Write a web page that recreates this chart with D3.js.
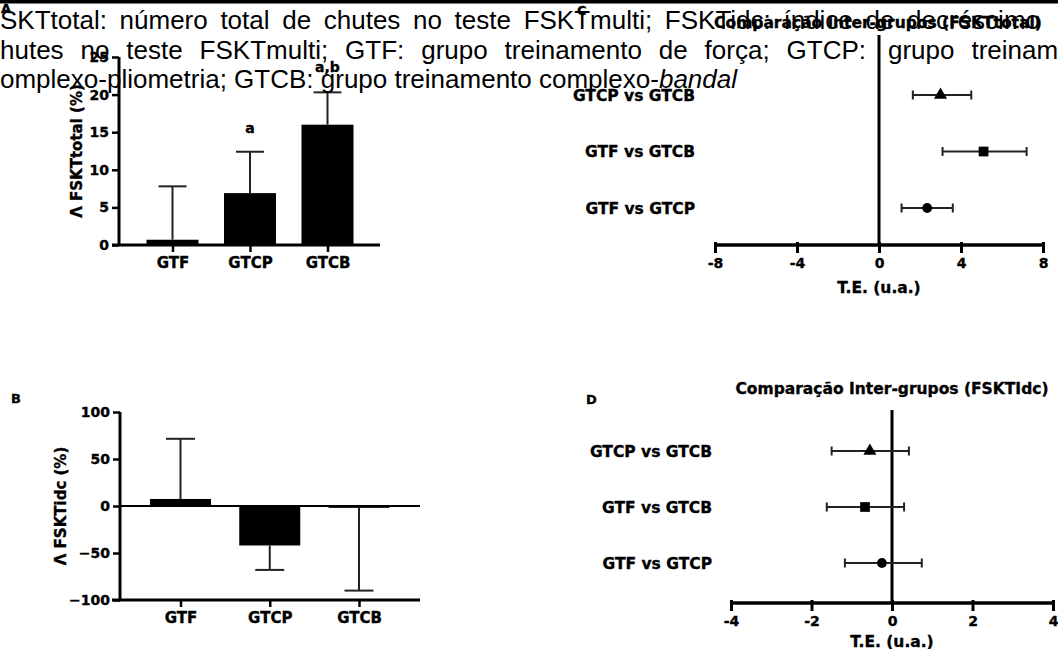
<!DOCTYPE html>
<html><head><meta charset="utf-8">
<script src="https://cdn.jsdelivr.net/npm/d3@7"></script>
<style>
html,body{margin:0;padding:0;background:#fff;overflow:hidden}
svg{display:block}
.b{font-family:"DejaVu Sans",sans-serif;font-weight:bold;fill:#000;stroke:#000;stroke-width:0.35px}
.cap{font-family:"Liberation Sans",Arial,sans-serif;font-size:26px;fill:#000}
</style></head>
<body>
<svg id="c" width="1058" height="649"></svg>
<script>
// ---- data ----
const groups = ["GTF", "GTCP", "GTCB"];
const totalMean = [0.7, 6.9, 16.0];
const totalSD = [7.1, 5.5, 4.3];
const totalSig = ["", "a", "a,b"];
const totalTicks = [0, 5, 10, 15, 20, 25];

const idcMean = [7.5, -42, -2];
const idcSD = [64, 26, 88];
const idcTicks = [-100, -50, 0, 50, 100];

const comparisons = ["GTCP vs GTCB", "GTF vs GTCB", "GTF vs GTCP"];
const markers = ["triangle", "square", "circle"];
const esTotal = [3.0, 5.1, 2.35];
const esTotalLo = [1.65, 3.1, 1.1];
const esTotalHi = [4.5, 7.2, 3.6];
const esTotalTicks = [-8, -4, 0, 4, 8];

const esIdc = [-0.55, -0.67, -0.25];
const esIdcLo = [-1.5, -1.62, -1.17];
const esIdcHi = [0.42, 0.3, 0.74];
const esIdcTicks = [-4, -2, 0, 2, 4];

const caption1 = "FSKTtotal: número total de chutes no teste FSKTmulti; FSKTidc: índice de decréscimo";
const caption2a = "chutes no teste FSKTmulti; GTF: grupo treinamento de força; GTCP:";
const caption2b = "grupo treinamento";
const caption3a = "complexo-pliometria; GTCB: grupo treinamento complexo-";
const caption3b = "bandal";

const svg = d3.select("#c");

// ---- bar panel ----
function barPanel(o) {
  const g = svg.append("g");
  const y = d3.scaleLinear().domain(o.domain).range(o.yRange);
  const x = d3.scalePoint().domain(groups).range(o.xRange);
  const bw = o.bw;
  g.selectAll("rect.bar").data(groups).join("rect")
    .attr("x", d => x(d) - bw / 2)
    .attr("width", bw)
    .attr("y", (d, i) => Math.min(y(o.mean[i]), y(0)))
    .attr("height", (d, i) => Math.max(1.5, Math.abs(y(o.mean[i]) - y(0))))
    .attr("fill", "#000");
  const ends = o.mean.map((m, i) => m >= 0 ? m + o.sd[i] : m - o.sd[i]);
  g.selectAll("line.err").data(groups).join("line")
    .attr("x1", d => x(d)).attr("x2", d => x(d))
    .attr("y1", (d, i) => y(o.mean[i])).attr("y2", (d, i) => y(ends[i]))
    .attr("stroke", "#222").attr("stroke-width", 2);
  g.selectAll("line.capl").data(groups).join("line")
    .attr("x1", d => x(d) - o.capW / 2).attr("x2", d => x(d) + o.capW / 2)
    .attr("y1", (d, i) => y(ends[i])).attr("y2", (d, i) => y(ends[i]))
    .attr("stroke", "#222").attr("stroke-width", 2);
  const ya = g.append("g").attr("transform", `translate(${o.yAxisX},0)`)
    .call(d3.axisLeft(y).tickValues(o.ticks).tickSize(7).tickPadding(3).tickFormat(d3.format("d")));
  ya.select(".domain").attr("stroke", "#000").attr("stroke-width", 3).attr("d", `M0,${o.yRange[1]}V${o.yRange[0]}`);
  ya.selectAll(".tick line").attr("stroke", "#000").attr("stroke-width", 2.5);
  ya.selectAll(".tick text").attr("class", "b").style("font-size", "14px").attr("font-family", null);
  g.append("line").attr("x1", o.xAxisX0).attr("x2", o.xAxisX1)
    .attr("y1", y(o.domain[0])).attr("y2", y(o.domain[0]))
    .attr("stroke", "#000").attr("stroke-width", 3);
  if (o.domain[0] < 0) {
    g.append("line").attr("x1", o.yAxisX).attr("x2", o.xAxisX1)
      .attr("y1", y(0)).attr("y2", y(0)).attr("stroke", "#000").attr("stroke-width", 2);
  }
  const xa = g.append("g").attr("transform", `translate(0,${y(o.domain[0])})`)
    .call(d3.axisBottom(x).tickSize(7).tickPadding(5));
  xa.select(".domain").remove();
  xa.selectAll(".tick line").attr("stroke", "#000").attr("stroke-width", 2.5);
  xa.selectAll(".tick text").attr("class", "b").style("font-size", "15px").attr("font-family", null);
  g.append("text").attr("class", "b").style("font-size", "15px")
    .attr("text-anchor", "middle")
    .attr("transform", `translate(${o.labelX},${(o.yRange[0] + o.yRange[1]) / 2}) rotate(-90)`)
    .text(o.label);
  if (o.sig) {
    g.selectAll("text.sig").data(groups).join("text").attr("class", "b")
      .style("font-size", "14px").attr("text-anchor", "middle")
      .attr("x", d => x(d))
      .attr("y", (d, i) => y(ends[i]) + o.sigDy[i])
      .text((d, i) => o.sig[i]);
  }
  g.append("text").attr("class", "b").style("font-size", "13px")
    .attr("x", o.letterX).attr("y", o.letterY).text(o.letter);
}

// ---- forest panel ----
function forestPanel(o) {
  const g = svg.append("g");
  const x = d3.scaleLinear().domain(o.domain).range(o.xRange);
  const y = d3.scalePoint().domain(comparisons).range(o.yRange);
  g.append("line").attr("x1", x(0)).attr("x2", x(0)).attr("y1", o.zeroTop).attr("y2", o.axisY)
    .attr("stroke", "#000").attr("stroke-width", 3);
  const xa = g.append("g").attr("transform", `translate(0,${o.axisY})`)
    .call(d3.axisBottom(x).tickValues(o.ticks).tickSize(8).tickPadding(5).tickFormat(d3.format("d")));
  xa.select(".domain").attr("stroke", "#000").attr("stroke-width", 3.5)
    .attr("d", `M${o.xRange[0]},0H${o.xRange[1]}`);
  xa.selectAll(".tick line").attr("stroke", "#000").attr("stroke-width", 3).attr("y1", -3);
  xa.selectAll(".tick text").attr("class", "b").style("font-size", "14px").attr("font-family", null)
    .text(d => d < 0 ? "-" + Math.abs(d) : d);
  g.selectAll("line.ci").data(comparisons).join("line")
    .attr("x1", (d, i) => x(o.lo[i])).attr("x2", (d, i) => x(o.hi[i]))
    .attr("y1", d => y(d)).attr("y2", d => y(d)).attr("stroke", "#222").attr("stroke-width", 2);
  g.selectAll("line.cl").data(comparisons).join("line")
    .attr("x1", (d, i) => x(o.lo[i])).attr("x2", (d, i) => x(o.lo[i]))
    .attr("y1", d => y(d) - 4.5).attr("y2", d => y(d) + 4.5).attr("stroke", "#222").attr("stroke-width", 2);
  g.selectAll("line.ch").data(comparisons).join("line")
    .attr("x1", (d, i) => x(o.hi[i])).attr("x2", (d, i) => x(o.hi[i]))
    .attr("y1", d => y(d) - 4.5).attr("y2", d => y(d) + 4.5).attr("stroke", "#222").attr("stroke-width", 2);
  const symMap = { triangle: d3.symbolTriangle, square: d3.symbolSquare, circle: d3.symbolCircle };
  const sizeMap = { triangle: 75, square: 95, circle: 75 };
  g.selectAll("path.m").data(comparisons).join("path")
    .attr("d", (d, i) => d3.symbol(symMap[markers[i]], sizeMap[markers[i]])())
    .attr("transform", (d, i) => `translate(${x(o.es[i])},${y(d)})`)
    .attr("fill", "#000");
  g.selectAll("text.r").data(comparisons).join("text").attr("class", "b")
    .style("font-size", "15.5px").attr("text-anchor", "end")
    .attr("x", o.labelX).attr("y", d => y(d)).attr("dy", "0.36em").text(d => d);
  g.append("text").attr("class", "b").style("font-size", "15.5px").attr("text-anchor", "middle")
    .attr("x", x(0)).attr("y", o.axisTitleY).text("T.E. (u.a.)");
  g.append("text").attr("class", "b").style("font-size", "15.5px").attr("text-anchor", "middle")
    .attr("x", o.titleX).attr("y", o.titleY).text(o.title);
  g.append("text").attr("class", "b").style("font-size", "13px")
    .attr("x", o.letterX).attr("y", o.letterY).text(o.letter);
}

barPanel({
  domain: [0, 25], yRange: [245, 57], xRange: [172.5, 327.5], bw: 52, capW: 28,
  mean: totalMean, sd: totalSD, ticks: totalTicks, yAxisX: 119, xAxisX0: 112, xAxisX1: 380,
  label: "Λ FSKTtotal (%)", labelX: 82, sig: totalSig, sigDy: [0, -19, -20],
  letter: "A", letterX: 1, letterY: 13
});
barPanel({
  domain: [-100, 100], yRange: [600, 412], xRange: [180.5, 359], bw: 61, capW: 29,
  mean: idcMean, sd: idcSD, ticks: idcTicks, yAxisX: 120, xAxisX0: 112, xAxisX1: 420,
  label: "Λ FSKTidc (%)", labelX: 66, sig: null,
  letter: "B", letterX: 11, letterY: 403
});
forestPanel({
  domain: [-8, 8], xRange: [715, 1043], yRange: [95, 208], zeroTop: 35, axisY: 245,
  ticks: esTotalTicks, es: esTotal, lo: esTotalLo, hi: esTotalHi, labelX: 695,
  axisTitleY: 293, title: "Comparação inter-grupos (FSKTtotal)", titleX: 878, titleY: 28,
  letter: "C", letterX: 577, letterY: 15
});
forestPanel({
  domain: [-4, 4], xRange: [731, 1053], yRange: [451, 563], zeroTop: 410, axisY: 603,
  ticks: esIdcTicks, es: esIdc, lo: esIdcLo, hi: esIdcHi, labelX: 712,
  axisTitleY: 647, title: "Comparação Inter-grupos (FSKTIdc)", titleX: 892, titleY: 394,
  letter: "D", letterX: 586, letterY: 404
});

// ---- overlapping caption text ----
svg.append("rect").attr("x", 0).attr("y", 0).attr("width", 1058).attr("height", 3.5).attr("fill", "#000");
const capG = svg.append("g");
function measure(s) {
  const t = capG.append("text").attr("class", "cap").text(s);
  const w = t.node().getComputedTextLength(); t.remove(); return w;
}
function spaces(s) { return (s.match(/ /g) || []).length; }
// line 1 justified
{
  const x0 = -measure("F"), x1 = 1040;
  const ws = (x1 - x0 - measure(caption1)) / spaces(caption1);
  capG.append("text").attr("class", "cap").attr("x", x0).attr("y", 29)
    .style("word-spacing", ws + "px").text(caption1);
}
// line 2 justified, last words after a wider gap
{
  const x0 = -measure("c"), x1 = 866;
  const ws = (x1 - x0 - measure(caption2a)) / spaces(caption2a);
  capG.append("text").attr("class", "cap").attr("x", x0).attr("y", 59)
    .style("word-spacing", ws + "px").text(caption2a);
  capG.append("text").attr("class", "cap").attr("x", 888).attr("y", 59)
    .style("word-spacing", ws + "px").text(caption2b);
}
// line 3
{
  const t = capG.append("text").attr("class", "cap").attr("x", -measure("c")).attr("y", 88);
  t.append("tspan").text(caption3a);
  t.append("tspan").style("font-style", "italic").text(caption3b);
}
</script>
</body></html>
